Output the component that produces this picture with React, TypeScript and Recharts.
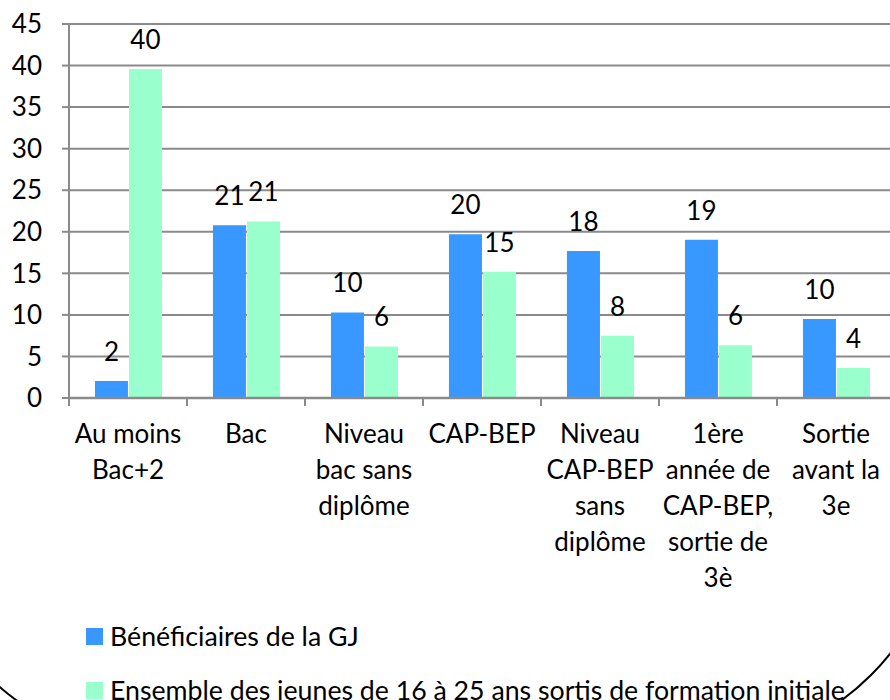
import React from 'react';
import { BarChart, Bar, XAxis, YAxis, CartesianGrid, LabelList } from 'recharts';

const categories = [
  'Au moins\nBac+2',
  'Bac',
  'Niveau\nbac sans\ndiplôme',
  'CAP-BEP',
  'Niveau\nCAP-BEP\nsans\ndiplôme',
  '1ère\nannée de\nCAP-BEP,\nsortie de\n3è',
  'Sortie\navant la\n3e',
];
const beneficiaires = [2.05, 20.8, 10.3, 19.7, 17.7, 19.05, 9.5];
const ensemble = [39.6, 21.25, 6.2, 15.2, 7.5, 6.35, 3.6];
const seriesNames = [
  'Bénéficiaires de la GJ',
  'Ensemble des jeunes de 16 à 25 ans sortis de formation initiale',
];
const seriesColors = ['#3898FF', '#99FFCC'];
const yTicks = [0, 5, 10, 15, 20, 25, 30, 35, 40, 45];

const data = categories.map((c, i) => ({
  category: c,
  beneficiaires: beneficiaires[i],
  ensemble: ensemble[i],
}));

const FONT = 'Lato, "Open Sans", sans-serif';
const FS = 26;
const GRAY = '#8a8a8a';
const CHART_W = 900;
const CHART_H = 600;
const Y_W = 69;
const M_RIGHT = 5;
const CAT_W = (CHART_W - Y_W - M_RIGHT) / categories.length;

const XTick = (props: any) => {
  const { x, y, payload, index } = props;
  const lines = String(payload.value).split('\n');
  return (
    <g>
      <line x1={x - CAT_W / 2} x2={x - CAT_W / 2} y1={y - 10} y2={y - 2} stroke={GRAY} strokeWidth={2} />
      {index === categories.length - 1 && (
        <line x1={x + CAT_W / 2} x2={x + CAT_W / 2} y1={y - 10} y2={y - 2} stroke={GRAY} strokeWidth={2} />
      )}
      <text x={x} y={y} textAnchor="middle" fontFamily={FONT} fontSize={FS} fill="#000">
        {lines.map((l, i) => (
          <tspan key={i} x={x} dy={i === 0 ? 35 : 36}>
            {l}
          </tspan>
        ))}
      </text>
    </g>
  );
};

const fmt = (v: any) => Math.round(Number(v));

export default function App() {
  return (
    <div
      style={{
        position: 'absolute',
        left: 0,
        top: 0,
        width: 890,
        height: 700,
        overflow: 'hidden',
        background: '#fff',
      }}
    >
      <BarChart
        width={CHART_W}
        height={CHART_H}
        data={data}
        margin={{ top: 24, right: M_RIGHT, bottom: 0, left: 0 }}
        barCategoryGap="22%"
        barGap={1}
      >
        <CartesianGrid vertical={false} stroke={GRAY} strokeWidth={2} />
        <XAxis
          dataKey="category"
          interval={0}
          height={202}
          tickSize={8}
          tickMargin={2}
          tickLine={false}
          axisLine={{ stroke: GRAY, strokeWidth: 2.5 }}
          tick={<XTick />}
        />
        <YAxis
          width={Y_W}
          domain={[0, 45]}
          ticks={yTicks}
          interval={0}
          tickSize={7}
          tickMargin={20}
          axisLine={{ stroke: GRAY, strokeWidth: 2 }}
          tickLine={{ stroke: GRAY, strokeWidth: 2 }}
          tick={{ fontFamily: FONT, fontSize: FS, fill: '#000' }}
        />
        <Bar dataKey="beneficiaires" name={seriesNames[0]} fill={seriesColors[0]} isAnimationActive={false}>
          <LabelList
            dataKey="beneficiaires"
            position="top"
            offset={20}
            formatter={fmt}
            style={{ fontFamily: FONT, fontSize: FS, fill: '#000' }}
          />
        </Bar>
        <Bar dataKey="ensemble" name={seriesNames[1]} fill={seriesColors[1]} isAnimationActive={false}>
          <LabelList
            dataKey="ensemble"
            position="top"
            offset={20}
            formatter={fmt}
            style={{ fontFamily: FONT, fontSize: FS, fill: '#000' }}
          />
        </Bar>
      </BarChart>
      <div style={{ position: 'absolute', left: 86, top: 609, fontFamily: FONT, fontSize: 26.7, color: '#000' }}>
        {seriesNames.map((n, i) => (
          <div key={n} style={{ display: 'flex', alignItems: 'center', height: 54, whiteSpace: 'nowrap' }}>
            <span style={{ display: 'inline-block', width: 17, height: 17, background: seriesColors[i], marginRight: 7 }} />
            <span>{n}</span>
          </div>
        ))}
      </div>
      <div
        style={{
          position: 'absolute',
          left: -87,
          top: -300,
          width: 1032,
          height: 1049,
          border: '2px solid #000',
          borderRadius: 250,
          boxSizing: 'border-box',
          pointerEvents: 'none',
        }}
      />
    </div>
  );
}
